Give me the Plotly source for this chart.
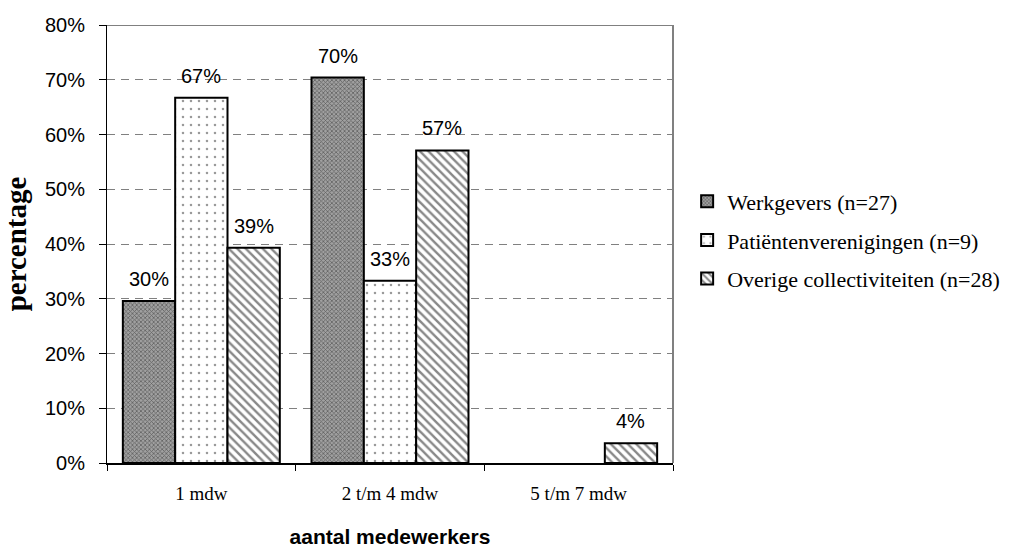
import plotly.graph_objects as go

categories = ["1 mdw", "2 t/m 4 mdw", "5 t/m 7 mdw"]
werkgevers = [29.6, 70.4, 0]
patienten = [66.7, 33.3, 0]
overige = [39.3, 57.1, 3.6]
labels_werkgevers = ["30%", "70%", ""]
labels_patienten = ["67%", "33%", ""]
labels_overige = ["39%", "57%", "4%"]
y_ticks = [0, 10, 20, 30, 40, 50, 60, 70, 80]
y_ticktext = [f"{v}%" for v in y_ticks]

W, H = 1021, 548
M = dict(l=107, r=348, t=25, b=85)
BARGAP = 0.168
SERIF = "Liberation Serif"
SANS = "Liberation Sans"

series = [
    ("Werkgevers (n=27)", werkgevers, labels_werkgevers,
     dict(color="#777777", pattern=dict(shape="x", fgcolor="#222222", bgcolor="#a0a0a0", size=3, solidity=0.45))),
    ("Patiëntenverenigingen (n=9)", patienten, labels_patienten,
     dict(color="white", pattern=dict(shape=".", fgcolor="#333333", bgcolor="white", size=8, solidity=0.08))),
    ("Overige collectiviteiten (n=28)", overige, labels_overige,
     dict(color="white", pattern=dict(shape="\\", fgcolor="#111111", bgcolor="white", size=6, solidity=0.4))),
]

fig = go.Figure()
for i, (name, vals, labs, mk) in enumerate(series):
    fig.add_trace(go.Bar(
        x=categories, y=vals, name=name, legendgroup=f"g{i}",
        marker=dict(line=dict(color="black", width=[2 if v > 0 else 0 for v in vals]), **mk),
    ))

# value labels above each bar, offset horizontally to sit over the grouped bar
plot_w = W - M["l"] - M["r"]
bar_px = plot_w / len(categories) * (1 - BARGAP) / len(series)
for i, (name, vals, labs, mk) in enumerate(series):
    for cat, v, lab in zip(categories, vals, labs):
        if lab:
            fig.add_annotation(
                x=cat, y=v, text=lab, showarrow=False,
                xanchor="center", yanchor="bottom",
                xshift=(i - 1) * bar_px, yshift=9,
                font=dict(family=SANS, size=20, color="black"),
            )

fig.update_layout(
    width=W, height=H,
    margin=M,
    paper_bgcolor="white", plot_bgcolor="white",
    barmode="group", bargap=BARGAP, bargroupgap=0,
    showlegend=True,
    legend=dict(xref="container", yref="container", x=0.673, y=0.562,
                xanchor="left", yanchor="middle",
                font=dict(family=SERIF, size=22, color="black"),
                tracegroupgap=7, itemwidth=30),
    xaxis=dict(
        automargin=False,
        showline=True, linecolor="black", linewidth=2,
        ticks="outside", ticklen=6, tickcolor="black", tickson="boundaries",
        ticklabelstandoff=12,
        tickfont=dict(family=SERIF, size=19, color="black"),
        title=dict(text="<b>aantal medewerkers</b>", standoff=30,
                   font=dict(family=SANS, size=21, color="black")),
    ),
    yaxis=dict(
        automargin=False,
        range=[0, 80], tickvals=y_ticks, ticktext=y_ticktext,
        showline=True, linecolor="black", linewidth=1,
        ticks="outside", ticklen=7, tickcolor="black",
        ticklabelstandoff=10,
        showgrid=True, gridcolor="#808080", gridwidth=1, griddash="8px,6px",
        zeroline=False,
        tickfont=dict(family=SANS, size=20, color="black"),
        title=dict(text="<b>percentage</b>", standoff=14,
                   font=dict(family=SERIF, size=29, color="black")),
    ),
)

# solid frame along the top and right of the plot area
fig.add_shape(type="line", xref="paper", yref="y", x0=0, x1=1, y0=80, y1=80,
              line=dict(color="#808080", width=2))
fig.add_shape(type="line", xref="paper", yref="y", x0=1, x1=1, y0=0, y1=80,
              line=dict(color="#808080", width=2))

fig.write_html("out.html")
